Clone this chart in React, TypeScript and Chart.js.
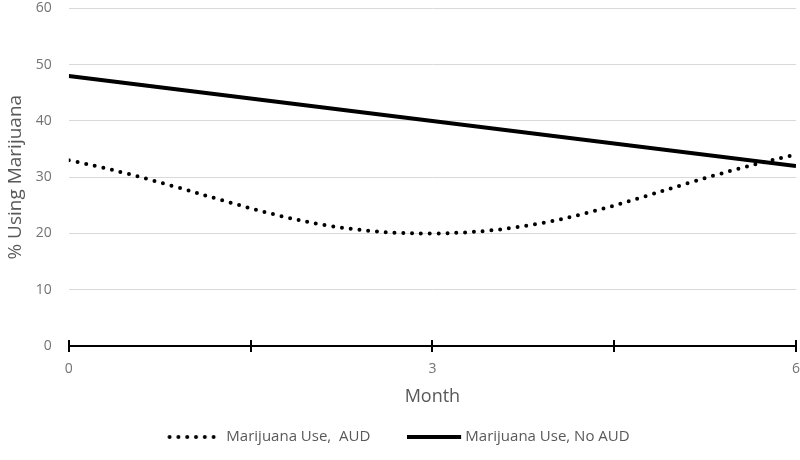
import React, { useEffect, useRef } from "react";
import { Chart, registerables } from "chart.js";

Chart.register(...registerables);

const months = [0, 3, 6];
const audValues = [33, 20, 34];
const noAudValues = [48, 40, 32];
const seriesLabels = ["Marijuana Use,  AUD", "Marijuana Use, No AUD"];
const xTickValues = [0, 1.5, 3, 4.5, 6];
const xTickLabels = [0, 3, 6];
const xTitle = "Month";
const yTitle = "% Using Marijuana";

const FONT = "'Open Sans', sans-serif";
const GREY = "#595959";
const TICK_GREY = "#737373";

function makeSample(dotted: boolean): HTMLCanvasElement {
  const c = document.createElement("canvas");
  c.width = dotted ? 57 : 55;
  c.height = 8;
  const ctx = c.getContext("2d")!;
  ctx.strokeStyle = "#000";
  ctx.lineWidth = 4;
  ctx.beginPath();
  if (dotted) {
    ctx.lineCap = "round";
    ctx.setLineDash([0, 8.8]);
    ctx.moveTo(2.5, 4);
    ctx.lineTo(50, 4);
  } else {
    ctx.lineCap = "butt";
    ctx.moveTo(0, 4);
    ctx.lineTo(54, 4);
  }
  ctx.stroke();
  return c;
}

const axisTicksPlugin = {
  id: "axisTicks",
  afterDraw(chart: any) {
    const xs = chart.scales.x;
    const ctx = chart.ctx;
    const y = chart.scales.y.getPixelForValue(0);
    ctx.save();
    ctx.strokeStyle = "#000";
    ctx.lineWidth = 2;
    xs.ticks.forEach((t: any) => {
      const px = Math.round(xs.getPixelForValue(t.value));
      ctx.beginPath();
      ctx.moveTo(px, y - 6);
      ctx.lineTo(px, y + 6);
      ctx.stroke();
    });
    ctx.restore();
  },
};

export default function App() {
  const ref = useRef<HTMLCanvasElement>(null);
  useEffect(() => {
    const samples = [makeSample(true), makeSample(false)];
    const chart = new Chart(ref.current!, {
      type: "line",
      data: {
        datasets: [
          {
            label: seriesLabels[0],
            data: months.map((m, i) => ({ x: m, y: audValues[i] })),
            borderColor: "#000",
            borderWidth: 4,
            borderDash: [0, 8.8],
            borderCapStyle: "round",
            tension: 0.4,
            pointRadius: 0,
            fill: false,
          },
          {
            label: seriesLabels[1],
            data: months.map((m, i) => ({ x: m, y: noAudValues[i] })),
            borderColor: "#000",
            borderWidth: 4,
            tension: 0,
            pointRadius: 0,
            fill: false,
          },
        ],
      },
      options: {
        animation: false,
        responsive: true,
        maintainAspectRatio: false,
        layout: { padding: { left: 4, right: 2, top: -3, bottom: 5.5 } },
        plugins: {
          tooltip: { enabled: false },
          legend: {
            position: "bottom",
            labels: {
              usePointStyle: true,
              pointStyleWidth: 46.5,
              padding: 41,
              color: GREY,
              font: { family: FONT, size: 15 },
              generateLabels: () =>
                seriesLabels.map((t, i) => ({
                  text: t,
                  pointStyle: samples[i],
                  fillStyle: "rgba(0,0,0,0)",
                  strokeStyle: "rgba(0,0,0,0)",
                  lineWidth: 0,
                  hidden: false,
                  datasetIndex: i,
                  fontColor: GREY,
                })),
            },
          },
        },
        scales: {
          x: {
            type: "linear",
            min: 0,
            max: 6,
            grid: {
              display: true,
              drawOnChartArea: false,
              drawTicks: true,
              tickLength: 15,
              tickColor: "rgba(0,0,0,0)",
            },
            border: { display: true, color: "#000", width: 2 },
            afterBuildTicks: (axis: any) => {
              axis.ticks = xTickValues.map((v) => ({ value: v }));
            },
            ticks: {
              autoSkip: false,
              maxRotation: 0,
              padding: 0,
              color: TICK_GREY,
              font: { family: FONT, size: 14 },
              callback: (v: any) => (xTickLabels.includes(Number(v)) ? String(v) : ""),
            },
            title: {
              display: true,
              text: xTitle,
              color: GREY,
              font: { family: FONT, size: 18 },
              padding: { top: 8.4, bottom: -19.3 },
            },
          },
          y: {
            min: 0,
            max: 60,
            grid: {
              color: "#d9d9d9",
              lineWidth: 1,
              drawTicks: true,
              tickLength: 17,
              tickColor: "rgba(0,0,0,0)",
            },
            border: { display: false },
            ticks: {
              stepSize: 10,
              padding: 0,
              color: TICK_GREY,
              font: { family: FONT, size: 14 },
            },
            title: {
              display: true,
              text: yTitle,
              color: GREY,
              font: { family: FONT, size: 19 },
              padding: { top: 0, bottom: 9 },
            },
          },
        },
      },
      plugins: [axisTicksPlugin],
    });
    return () => chart.destroy();
  }, []);
  return (
    <div style={{ position: "fixed", left: 0, top: 0, width: 800, height: 460, background: "#fff" }}>
      <canvas ref={ref} />
    </div>
  );
}
